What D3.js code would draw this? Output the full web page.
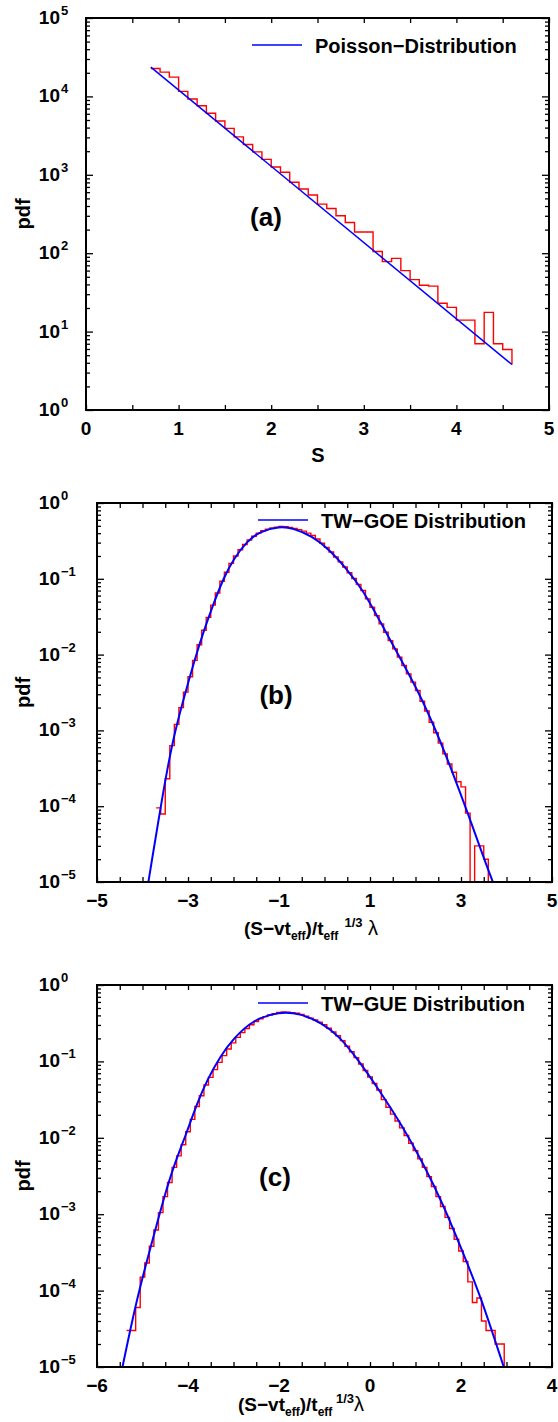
<!DOCTYPE html>
<html><head><meta charset="utf-8">
<script src="https://cdn.jsdelivr.net/npm/d3@7"></script>
<style>
body{margin:0;background:#fff}
text{font-family:"Liberation Sans",Arial,Helvetica,sans-serif;}
</style>
</head><body>
<script>
// ---------------- DATA ----------------
// Panel (a)
const aLineX = [0.7, 4.6];
const aLineY = [23600, 3.8];
const aBinStart = 0.7, aBinWidth = 0.1;
const aHist = [22700,20400,17600,11600,9250,7590,6100,4860,3910,3050,2430,1960,1575,1255,
  1080,805,660,553,423,372,300,246,186,186,105,78,86,60,46,39,38,23,20.4,14,14,7.0,17.6,7.0,5.9];
const aHistEnd = 3.8;
const aXTicks = [0,1,2,3,4,5];
const aYDecades = [0,1,2,3,4,5];
const aLegend = "Poisson\u2212Distribution";

// Panel (b)
const bCurveX = [-3.87,-3.79,-3.61,-3.46,-3.28,-3.06,-2.84,-2.66,-2.44,-2.22,-2.0,-1.70,-1.41,-0.99,-0.70,-0.26,0.105,0.47,0.84,1.20,1.68,2.08,2.45,2.82,3.15,3.51,3.70];
const bCurveY = [1e-5,2.0e-5,9.0e-5,3.0e-4,1.02e-3,3.11e-3,9.1e-3,2.0e-2,4.68e-2,0.102,0.182,0.316,0.423,0.49,0.468,0.363,0.242,0.139,0.0718,0.0289,0.0086,0.00311,1.0e-3,2.75e-4,8.1e-5,2.0e-5,1e-5];
const bBinStart = -3.7, bBinWidth = 0.1;
const bHist = [9.5e-5,7.9e-5,2.3e-4,6.3e-4,1.2e-3,2.0e-3,3.2e-3,5.1e-3,8.4e-3,1.35e-2,2.1e-2,3.1e-2,4.5e-2,6.5e-2,9.3e-2,
  0.122,0.160,0.200,0.242,0.283,0.325,0.365,0.400,0.430,0.450,0.467,0.481,0.489,0.485,0.476,0.462,0.445,0.425,0.400,0.372,
  0.335,0.294,0.260,0.226,0.194,0.167,0.143,0.120,0.1007,0.0843,0.070,0.0543,0.0422,0.0327,0.0254,0.0197,0.0153,0.0119,
  0.00925,0.00718,0.00557,0.00433,0.00336,0.00242,0.0018,0.00128,9.3e-4,6.8e-4,4.9e-4,3.6e-4,2.8e-4,2.1e-4,1.8e-4,8.1e-5,
  0,3.0e-5,3.0e-5,2.0e-5];
const bXTicks = [-5,-3,-1,1,3,5];
const bYDecades = [-5,-4,-3,-2,-1,0];
const bLegend = "TW\u2212GOE Distribution";

// Panel (c)
const cCurveX = [-5.44,-5.16,-4.90,-4.72,-4.54,-4.32,-4.06,-3.80,-3.58,-3.29,-3.0,-2.56,-1.99,-1.55,-1.04,-0.67,-0.31,0.20,0.72,1.16,1.60,2.11,2.44,2.94];
const cCurveY = [1e-5,6.3e-5,2.5e-4,6.2e-4,1.55e-3,4.19e-3,1.04e-2,2.83e-2,5.71e-2,0.117,0.20,0.355,0.448,0.427,0.316,0.21,0.115,0.0423,0.014,0.0047,0.00139,2.5e-4,8.1e-5,1e-5];
const cBinStart = -5.35, cBinWidth = 0.1;
const cHist = [3e-5,3e-5,6e-5,1.5e-4,
  2.3e-4,3.8e-4,6.2e-4,1.05e-3,1.7e-3,2.6e-3,4.1e-3,5.8e-3,8.1e-3,0.012,0.0174,0.0257,0.0355,0.049,0.0617,0.0780,0.0970,
  0.119,0.145,0.175,0.206,0.238,0.270,0.302,0.333,0.360,0.385,0.405,0.422,0.436,0.443,0.441,0.434,0.426,0.412,0.391,0.368,
  0.348,0.327,0.303,0.271,0.243,0.217,0.187,0.158,0.134,0.112,0.0925,0.076,0.0625,0.0514,0.0423,0.0316,0.0251,0.0204,
  0.0166,0.0135,0.0107,0.0085,0.0068,0.0053,0.0041,0.0031,0.0023,0.0017,0.00126,9.1e-4,6.5e-4,4.7e-4,3.3e-4,2.4e-4,1.3e-4,
  7e-5,8e-5,4e-5,3e-5,3e-5,2e-5,2e-5];
const cXTicks = [-6,-4,-2,0,2,4];
const cYDecades = [-5,-4,-3,-2,-1,0];
const cLegend = "TW\u2212GUE Distribution";

// ---------------- DRAWING ----------------
const W = 558, H = 1422;
const svg = d3.select("body").append("svg").attr("width", W).attr("height", H);
const RED = "#ff0000", BLUE = "#0000ff";

function fmtNum(v){ return v < 0 ? "\u2212" + Math.abs(v) : String(v); }

function panel(cfg){
  const x = d3.scaleLinear().domain(cfg.xDomain).range([cfg.left, cfg.right]);
  const y = d3.scaleLog().domain(cfg.yDomain).range([cfg.bottom, cfg.top]);
  const g = svg.append("g");
  const clipId = "clip" + cfg.id;
  svg.append("clipPath").attr("id", clipId).append("rect")
    .attr("x", cfg.left).attr("y", cfg.top).attr("width", cfg.right - cfg.left).attr("height", cfg.bottom - cfg.top);
  const plot = g.append("g").attr("clip-path", `url(#${clipId})`);
  const yv = v => v > 0 ? y(v) : cfg.bottom + 5;

  // histogram as steps
  const pts = [];
  cfg.hist.forEach((v, i) => {
    const x0 = cfg.binStart + i * cfg.binWidth, x1 = x0 + cfg.binWidth;
    pts.push([x(x0), yv(v)], [x(x1), yv(v)]);
  });
  const xe = cfg.binStart + cfg.hist.length * cfg.binWidth;
  pts.push([x(xe), cfg.histEnd > 0 ? y(cfg.histEnd) : cfg.bottom + 5]);
  plot.append("path").attr("d", d3.line()(pts)).attr("fill", "none")
    .attr("stroke", RED).attr("stroke-width", 1.4);

  // theory curve
  const cpts = cfg.cx.map((d, i) => [x(d), y(cfg.cy[i])]);
  plot.append("path").attr("d", d3.line().curve(cfg.linear ? d3.curveLinear : d3.curveBasis)(cpts))
    .attr("fill", "none").attr("stroke", BLUE).attr("stroke-width", cfg.lw);

  // frame
  g.append("rect").attr("x", cfg.left).attr("y", cfg.top)
    .attr("width", cfg.right - cfg.left).attr("height", cfg.bottom - cfg.top)
    .attr("fill", "none").attr("stroke", "#000").attr("stroke-width", 2);

  // x ticks (every 0.5)
  const xMinor = d3.range(cfg.xDomain[0], cfg.xDomain[1] + 1e-9, 0.5);
  const ax = (axis, ty) => {
    const a = g.append("g").attr("transform", `translate(0,${ty})`).call(axis);
    a.select(".domain").remove(); a.selectAll("text").remove();
    a.selectAll("line").attr("stroke", "#000").attr("stroke-width", 1.3);
  };
  ax(d3.axisBottom(x).tickValues(xMinor).tickSize(-5), cfg.bottom);
  ax(d3.axisTop(x).tickValues(xMinor).tickSize(-5), cfg.top);
  // y ticks
  const major = cfg.decades.map(d => Math.pow(10, d));
  const minor = [];
  cfg.decades.slice(0, -1).forEach(d => { for (let k = 2; k <= 9; k++) minor.push(k * Math.pow(10, d)); });
  const ay = (axis, tx) => {
    const a = g.append("g").attr("transform", `translate(${tx},0)`).call(axis);
    a.select(".domain").remove(); a.selectAll("text").remove();
    a.selectAll("line").attr("stroke", "#000").attr("stroke-width", 1.3);
  };
  ay(d3.axisLeft(y).tickValues(major).tickSize(-7), cfg.left);
  ay(d3.axisLeft(y).tickValues(minor).tickSize(-4), cfg.left);
  ay(d3.axisRight(y).tickValues(major).tickSize(-7), cfg.right);
  ay(d3.axisRight(y).tickValues(minor).tickSize(-4), cfg.right);

  // y tick labels
  cfg.decades.forEach(d => {
    const yy = y(Math.pow(10, d));
    g.append("text").attr("x", 60).attr("y", yy + 6).attr("text-anchor", "end")
      .attr("font-size", 19).attr("font-weight", "bold").text("10");
    g.append("text").attr("x", 61).attr("y", yy - 3).attr("text-anchor", "start")
      .attr("font-size", 13).attr("font-weight", "bold").text(fmtNum(d));
  });
  // x tick labels
  cfg.xTicks.forEach(v => {
    g.append("text").attr("x", x(v)).attr("y", cfg.bottom + 25).attr("text-anchor", "middle")
      .attr("font-size", 19).attr("font-weight", "bold").text(fmtNum(v));
  });
  // y label
  g.append("text").attr("transform", `translate(30,${(cfg.top + cfg.bottom) / 2}) rotate(-90)`)
    .attr("text-anchor", "middle").attr("font-size", 20).attr("font-weight", "bold").text("pdf");
  // panel tag
  g.append("text").attr("x", cfg.tag[1]).attr("y", cfg.tag[2]).attr("text-anchor", "middle")
    .attr("font-size", 26).attr("font-weight", "bold").text(cfg.tag[0]);
  // legend
  g.append("line").attr("x1", cfg.leg[0]).attr("x2", cfg.leg[0] + 50).attr("y1", cfg.leg[1]).attr("y2", cfg.leg[1])
    .attr("stroke", BLUE).attr("stroke-width", 1.5);
  g.append("text").attr("x", cfg.leg[0] + 63).attr("y", cfg.leg[1] + 7.5)
    .attr("font-size", 20).attr("font-weight", "bold").text(cfg.legend);
  return g;
}

panel({id:"a", left:86, right:549, top:18, bottom:410, xDomain:[0,5], yDomain:[1,1e5],
  hist:aHist, binStart:aBinStart, binWidth:aBinWidth, histEnd:aHistEnd,
  cx:aLineX, cy:aLineY, linear:true, lw:1.5, decades:aYDecades, xTicks:aXTicks,
  tag:["(a)", 266, 226], leg:[252, 45], legend:aLegend});
panel({id:"b", left:97, right:552, top:503, bottom:882, xDomain:[-5,5], yDomain:[1e-5,1],
  hist:bHist, binStart:bBinStart, binWidth:bBinWidth, histEnd:0,
  cx:bCurveX, cy:bCurveY, linear:false, lw:2, decades:bYDecades, xTicks:bXTicks,
  tag:["(b)", 276, 704], leg:[258, 520], legend:bLegend});
panel({id:"c", left:97, right:552, top:985, bottom:1367, xDomain:[-6,4], yDomain:[1e-5,1],
  hist:cHist, binStart:cBinStart, binWidth:cBinWidth, histEnd:0,
  cx:cCurveX, cy:cCurveY, linear:false, lw:2, decades:cYDecades, xTicks:cXTicks,
  tag:["(c)", 275, 1186], leg:[258, 1003], legend:cLegend});

// x-axis titles
svg.append("text").attr("x", 318).attr("y", 462).attr("text-anchor", "middle")
  .attr("font-size", 20).attr("font-weight", "bold").text("S");

function xTitle(xc, yb, gap){
  const t = svg.append("text").attr("x", xc).attr("y", yb).attr("text-anchor", "middle")
    .attr("font-size", 19).attr("font-weight", "bold");
  t.append("tspan").text("(S\u2212vt");
  t.append("tspan").attr("font-size", 12).attr("dy", 5).text("eff");
  t.append("tspan").attr("dy", -5).text(")/t");
  t.append("tspan").attr("font-size", 12).attr("dy", 5).text("eff");
  t.append("tspan").attr("font-size", 13).attr("dy", -13).text((gap ? "\u2009" : "") + " 1/3");
  t.append("tspan").attr("dy", 8).attr("font-weight", "normal").attr("font-size", 20)
    .text((gap ? " " : "") + "\u03bb");
}
xTitle(311, 935, true);
xTitle(301, 1411, false);
</script>
</body></html>
